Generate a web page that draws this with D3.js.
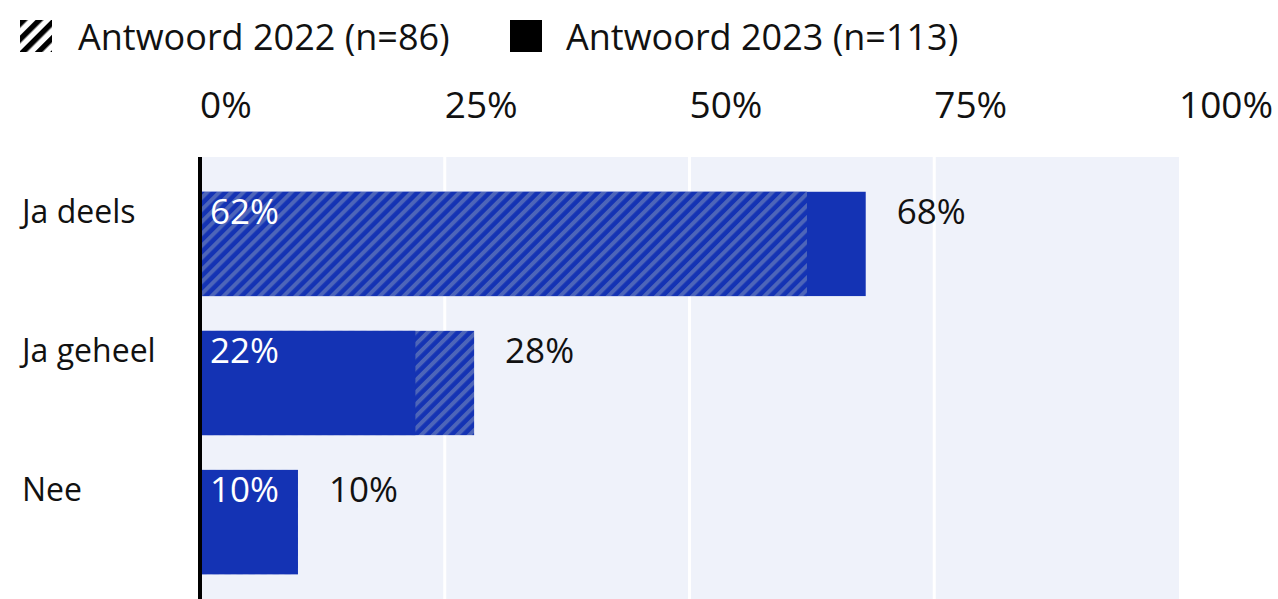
<!DOCTYPE html>
<html>
<head>
<meta charset="utf-8">
<script src="https://cdnjs.cloudflare.com/ajax/libs/d3/7.8.5/d3.min.js"></script>
<style>
    body { margin: 0; background: #fff; }
    svg { display: block; font-family: 'Open Sans', sans-serif; }
    .lbl { fill: #111; }
    .tick-label { font-size: 37px; }
    .cat-label { font-size: 32px; }
    .val-label { font-size: 35px; }
    .legend-label { font-size: 36px; }
</style>
</head>
<body>
<svg id="chart" width="1278" height="599"></svg>
<script>
// Data
const CATEGORIES = ['Ja deels', 'Ja geheel', 'Nee'];
const VALUES_2022 = [62, 28, 10];
const VALUES_2023 = [68, 22, 10];
const X_TICKS = [0, 25, 50, 75, 100];
const LEGEND_LABELS = ['Antwoord 2022 (n=86)', 'Antwoord 2023 (n=113)'];

const BLUE = '#1433b4';
const STRIPE = '#4d65b9';
const PLOT_BG = '#eff2fa';

const svg = d3.select('#chart');

// Patronen voor arcering
const defs = svg.append('defs');
const hatch = defs.append('pattern')
    .attr('id', 'hatch')
    .attr('patternUnits', 'userSpaceOnUse')
    .attr('width', 8.5).attr('height', 8.5)
    .attr('patternTransform', 'rotate(45)');
hatch.append('rect').attr('width', 8.5).attr('height', 8.5).attr('fill', BLUE);
hatch.append('rect').attr('width', 4).attr('height', 8.5).attr('fill', STRIPE);

const hatchLegend = defs.append('pattern')
    .attr('id', 'hatch-legend')
    .attr('patternUnits', 'userSpaceOnUse')
    .attr('width', 11).attr('height', 11)
    .attr('patternTransform', 'translate(20,20) rotate(45)');
hatchLegend.append('rect').attr('width', 11).attr('height', 11).attr('fill', '#fff');
hatchLegend.append('rect').attr('width', 5.5).attr('height', 11).attr('fill', '#000');

// Schalen
const x = d3.scaleLinear().domain([0, 100]).range([200, 1179]);
const y = d3.scaleBand().domain(CATEGORIES).range([157, 609])
    .paddingInner(0.25).paddingOuter(0.25);

// Achtergrond plotgebied
svg.append('rect')
    .attr('x', x(0)).attr('y', 157)
    .attr('width', x(100) - x(0)).attr('height', 599 - 157)
    .attr('fill', PLOT_BG);

// Rasterlijnen
svg.selectAll('.grid')
    .data(X_TICKS.filter(d => d > 0 && d < 100))
    .enter().append('line')
    .attr('x1', d => x(d)).attr('x2', d => x(d))
    .attr('y1', 157).attr('y2', 599)
    .attr('stroke', '#fff').attr('stroke-width', 3);

// As-labels boven
svg.selectAll('.tick-label')
    .data(X_TICKS)
    .enter().append('text')
    .attr('class', 'lbl tick-label')
    .attr('x', d => x(d))
    .attr('y', 118)
    .text(d => d + '%');

// Balken: grootste achter, kleinste voor (bij gelijk: 2023 voor)
const rows = CATEGORIES.map((c, i) => {
    const a = { year: 2022, v: VALUES_2022[i] };
    const b = { year: 2023, v: VALUES_2023[i] };
    const back = a.v >= b.v ? a : b;
    const front = back === a ? b : a;
    return { cat: c, back, front };
});

const fillFor = d => d.year === 2022 ? 'url(#hatch)' : BLUE;

const g = svg.selectAll('.row').data(rows).enter().append('g');

g.append('rect')
    .attr('x', x(0))
    .attr('y', d => y(d.cat))
    .attr('width', d => x(d.back.v) - x(0))
    .attr('height', y.bandwidth())
    .attr('fill', d => fillFor(d.back));

g.append('rect')
    .attr('x', x(0))
    .attr('y', d => y(d.cat))
    .attr('width', d => x(d.front.v) - x(0))
    .attr('height', y.bandwidth())
    .attr('fill', d => fillFor(d.front));

// Categorie labels
g.append('text')
    .attr('class', 'lbl cat-label')
    .attr('x', 22)
    .attr('y', d => y(d.cat) + 31)
    .text(d => d.cat);

// Waarde binnen de balk
g.append('text')
    .attr('class', 'lbl val-label')
    .attr('x', x(0) + 10)
    .attr('y', d => y(d.cat) + 32)
    .style('fill', '#fff')
    .text(d => d.front.v + '%');

// Waarde buiten de balk
g.append('text')
    .attr('class', 'lbl val-label')
    .attr('x', d => x(d.back.v) + 31)
    .attr('y', d => y(d.cat) + 32)
    .text(d => d.back.v + '%');

// Y-as lijn
svg.append('line')
    .attr('x1', x(0)).attr('x2', x(0))
    .attr('y1', 157).attr('y2', 599)
    .attr('stroke', '#000').attr('stroke-width', 4);

// Legenda
const legend = svg.append('g');
legend.append('rect')
    .attr('x', 20).attr('y', 20).attr('width', 32).attr('height', 32)
    .attr('fill', 'url(#hatch-legend)');
legend.append('text')
    .attr('class', 'lbl legend-label')
    .attr('x', 78).attr('y', 50)
    .text(LEGEND_LABELS[0]);
legend.append('rect')
    .attr('x', 510).attr('y', 20).attr('width', 32).attr('height', 32)
    .attr('fill', '#000');
legend.append('text')
    .attr('class', 'lbl legend-label')
    .attr('x', 566).attr('y', 50)
    .text(LEGEND_LABELS[1]);
</script>
</body>
</html>
